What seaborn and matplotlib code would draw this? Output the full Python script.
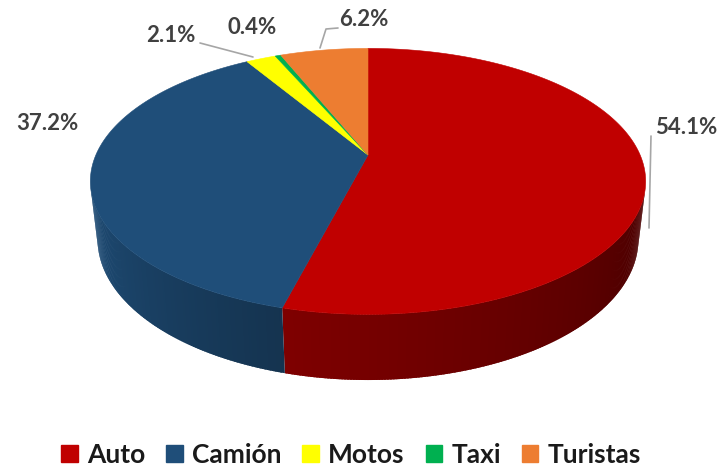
import numpy as np
import matplotlib
matplotlib.use("Agg")
import matplotlib.pyplot as plt
from matplotlib.patches import Polygon, Patch
from matplotlib.collections import PolyCollection
import seaborn as sns

# ---- data ----
categories = ["Auto", "Camión", "Motos", "Taxi", "Turistas"]
values = [54.1, 37.2, 2.1, 0.4, 6.2]
colors = ["#C00000", "#1F4E79", "#FFFF00", "#00B050", "#ED7D31"]

sns.set_theme(style="white")
plt.rcParams['font.family'] = ['Lato', 'DejaVu Sans']

fig = plt.figure(figsize=(7.24, 4.68), dpi=100)
ax = fig.add_axes([0, 0, 1, 1])
ax.set_xlim(0, 724)
ax.set_ylim(468, 0)
ax.axis("off")

# ---- perspective projection of a 3D pie ----
CX, CY, F, D = 368.0, 155.0, 1211.0, 4.45
E = np.deg2rad(28.0)
H = 0.243
se, ce = np.sin(E), np.cos(E)


def proj(phi, z=0.0, r=1.0):
    X = r * np.sin(phi)
    Y = r * np.cos(phi)
    d = D + Y * ce - z * se
    sx = CX + F * X / d
    sy = CY - F * (Y * se + z * ce) / d
    return sx, sy


def side_factor(phi_deg):
    return np.interp(phi_deg, [100, 195, 260], [0.36, 0.66, 1.0])


fracs = np.array(values) / np.sum(values)
bounds = np.concatenate([[0], np.cumsum(fracs)]) * 2 * np.pi

vis_lo, vis_hi = np.deg2rad(104.0), np.deg2rad(256.0)

# sides (overlapping strips, drawn in order, to hide seams)
for i, (a0, a1) in enumerate(zip(bounds[:-1], bounds[1:])):
    lo, hi = max(a0, vis_lo), min(a1, vis_hi)
    if hi <= lo:
        continue
    n = max(2, int(np.rad2deg(hi - lo) * 2) + 1)
    ph = np.linspace(lo, hi, n + 1)
    step = ph[1] - ph[0]
    polys, cols = [], []
    base = np.array(matplotlib.colors.to_rgb(colors[i]))
    for k, (p0, p1) in enumerate(zip(ph[:-1], ph[1:])):
        p1e = min(p1 + step * 0.8, hi)
        arc = np.linspace(p0, p1e, 4)
        tx, ty = proj(arc, 0)
        bx, by = proj(arc[::-1], -H)
        pts = list(zip(tx, ty)) + list(zip(bx, by))
        polys.append(pts)
        fct = side_factor(np.rad2deg((p0 + p1) / 2))
        cols.append(np.clip(base * fct, 0, 1))
    pc = PolyCollection(polys, facecolors=cols, edgecolors="none", linewidths=0)
    ax.add_collection(pc)

# tops
for i, (a0, a1) in enumerate(zip(bounds[:-1], bounds[1:])):
    n = max(3, int(np.rad2deg(a1 - a0) * 2))
    ph = np.linspace(a0, a1, n)
    xs, ys = proj(ph, 0)
    pts = [(CX, CY)] + list(zip(xs, ys))
    ax.add_patch(Polygon(pts, closed=True, facecolor=colors[i],
                         edgecolor=colors[i], linewidth=0.4))

# ---- labels ----
lab_color = "#404040"
label_pos = [(686, 127), (47, 123), (171, 36), (252, 27), (364, 20)]
for v, (lx, ly) in zip(values, label_pos):
    ax.text(lx, ly, f"{v:.1f}%", ha="center", va="center", fontsize=16,
            fontweight="bold", color=lab_color)

line_color = "#A6A6A6"
ax.plot([651, 649], [136, 228], color=line_color, lw=1.2)
ax.plot([200, 253], [43, 57], color=line_color, lw=1.2)
ax.plot([338, 326, 320], [28, 29, 48], color=line_color, lw=1.2)

# ---- legend ----
handles = [Patch(facecolor=c, edgecolor=c, label=l) for c, l in zip(colors, categories)]
leg = ax.legend(handles=handles, loc="center", bbox_to_anchor=(351 / 724, 1 - 455 / 468),
                ncol=5, frameon=False, fontsize=19, handlelength=0.62,
                handleheight=0.62, handletextpad=0.35, columnspacing=0.8,
                borderaxespad=0, borderpad=0)
for t in leg.get_texts():
    t.set_fontweight("bold")
    t.set_color("#1a1a1a")

fig.savefig("out.png", dpi=100)
